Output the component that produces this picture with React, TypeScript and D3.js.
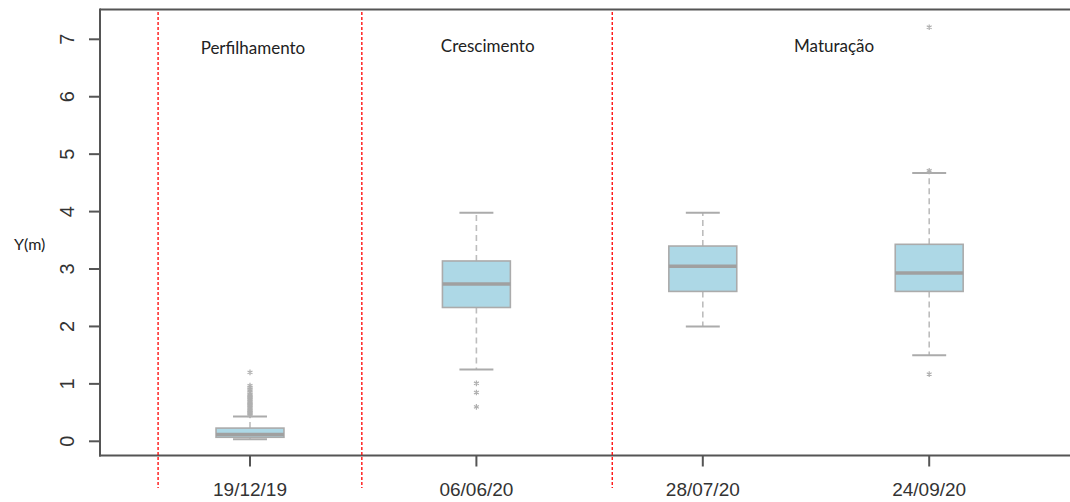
import React from "react";
import * as d3 from "d3";

// Sampling dates (categories)
const dates = ["19/12/19", "06/06/20", "28/07/20", "24/09/20"];

// Box statistics per date (m)
const whiskerLow = [0.035, 1.25, 2.0, 1.5];
const q1 = [0.07, 2.33, 2.61, 2.61];
const median = [0.12, 2.74, 3.05, 2.93];
const q3 = [0.23, 3.14, 3.4, 3.43];
const whiskerHigh = [0.43, 3.98, 3.98, 4.67];

// Outliers per date
const outliers1 = [
  0.45, 0.47, 0.49, 0.5, 0.52, 0.54, 0.56, 0.58, 0.6, 0.62, 0.64, 0.66, 0.68,
  0.7, 0.72, 0.74, 0.76, 0.78, 0.8, 0.82, 0.85, 0.88, 0.91, 0.94, 0.97, 1.2,
];
const outliers2 = [1.01, 0.85, 0.6];
const outliers3: number[] = [];
const outliers4 = [4.71, 7.21, 1.17];
const outliers = [outliers1, outliers2, outliers3, outliers4];

// Y axis ticks
const yTicks = [0, 1, 2, 3, 4, 5, 6, 7];

// Growth phases: label, label position and left boundary (in category index units)
const phaseNames = ["Perfilhamento", "Crescimento", "Maturação"];
const phaseLabelAt = [0.013, 1.05, 2.58];
const phaseStart = [-0.406, 0.494, 1.6];

const W = 1070;
const H = 502;
const plotLeft = 100;
const plotTop = 9.5;
const plotBottom = 455.5;

export default function App() {
  const x = d3.scaleBand<string>().domain(dates).range([136.8, 1042.4]).padding(0);
  const bw = x.bandwidth();
  const cx = (d: string) => (x(d) as number) + bw / 2;
  const idx = d3
    .scaleLinear()
    .domain([0, dates.length - 1])
    .range([cx(dates[0]), cx(dates[dates.length - 1])]);
  const y = d3.scaleLinear().domain([0, 7]).range([441.3, 39.3]);

  const boxW = bw * 0.3;
  const capW = boxW / 2;
  const star = d3.symbol().type(d3.symbolAsterisk).size(22);

  const gray = "#ababab";
  const axisCol = "#555";

  return (
    <svg
      width={W}
      height={H}
      style={{ position: "absolute", left: 0, top: 0, background: "#fff" }}
    >
      {/* frame: top border, left and bottom axes */}
      <line x1={plotLeft} x2={W} y1={plotTop} y2={plotTop} stroke={axisCol} strokeWidth={2} />
      <line x1={plotLeft} x2={plotLeft} y1={plotTop - 1} y2={plotBottom + 1} stroke={axisCol} strokeWidth={2} />
      <line x1={plotLeft - 1} x2={W} y1={plotBottom} y2={plotBottom} stroke={axisCol} strokeWidth={2} />

      {/* y axis ticks */}
      {yTicks.map((t) => (
        <g key={t}>
          <line x1={plotLeft - 11} x2={plotLeft} y1={y(t)} y2={y(t)} stroke={axisCol} strokeWidth={2} />
          <text
            transform={`translate(74,${y(t)}) rotate(-90)`}
            textAnchor="middle"
            fontFamily="'Liberation Sans', Arial, sans-serif"
            fontSize={20}
            fill="#333"
          >
            {t}
          </text>
        </g>
      ))}
      <text x={14} y={250} fontFamily="Lato, sans-serif" fontSize={16} fill="#222">
        Y(m)
      </text>

      {/* x axis ticks */}
      {dates.map((d) => (
        <g key={d}>
          <line x1={cx(d)} x2={cx(d)} y1={plotBottom} y2={plotBottom + 11} stroke={axisCol} strokeWidth={2} />
          <text
            x={cx(d)}
            y={496}
            textAnchor="middle"
            fontFamily="'Liberation Sans', Arial, sans-serif"
            fontSize={19}
            fill="#333"
          >
            {d}
          </text>
        </g>
      ))}

      {/* phase separators */}
      {phaseStart.map((p, i) => (
        <line
          key={i}
          x1={idx(p)}
          x2={idx(p)}
          y1={12}
          y2={488}
          stroke="#ff0000"
          strokeWidth={1.3}
          strokeDasharray="3,2"
        />
      ))}
      {phaseNames.map((n, i) => (
        <text
          key={n}
          x={idx(phaseLabelAt[i])}
          y={i === 0 ? 54 : 51.5}
          textAnchor="middle"
          fontFamily="Lato, sans-serif"
          fontSize={17}
          fill="#222"
        >
          {n}
        </text>
      ))}

      {/* boxes */}
      {dates.map((d, i) => {
        const c = cx(d);
        return (
          <g key={d}>
            <line x1={c} x2={c} y1={y(q3[i])} y2={y(whiskerHigh[i])} stroke="#bdbdbd" strokeWidth={1.6} strokeDasharray="6,4" />
            <line x1={c} x2={c} y1={y(q1[i])} y2={y(whiskerLow[i])} stroke="#bdbdbd" strokeWidth={1.6} strokeDasharray="6,4" />
            <line x1={c - capW / 2} x2={c + capW / 2} y1={y(whiskerHigh[i])} y2={y(whiskerHigh[i])} stroke={gray} strokeWidth={2} />
            <line x1={c - capW / 2} x2={c + capW / 2} y1={y(whiskerLow[i])} y2={y(whiskerLow[i])} stroke={gray} strokeWidth={2} />
            <rect
              x={c - boxW / 2}
              y={y(q3[i])}
              width={boxW}
              height={y(q1[i]) - y(q3[i])}
              fill="#add8e6"
              stroke={gray}
              strokeWidth={1.6}
            />
            <line x1={c - boxW / 2} x2={c + boxW / 2} y1={y(median[i])} y2={y(median[i])} stroke="#a0a0a0" strokeWidth={3.5} />
            {outliers[i].map((o, k) => (
              <path
                key={k}
                d={star() as string}
                transform={`translate(${c},${y(o)})`}
                stroke="#b0b0b0"
                strokeWidth={1.2}
                fill="none"
              />
            ))}
          </g>
        );
      })}
    </svg>
  );
}
